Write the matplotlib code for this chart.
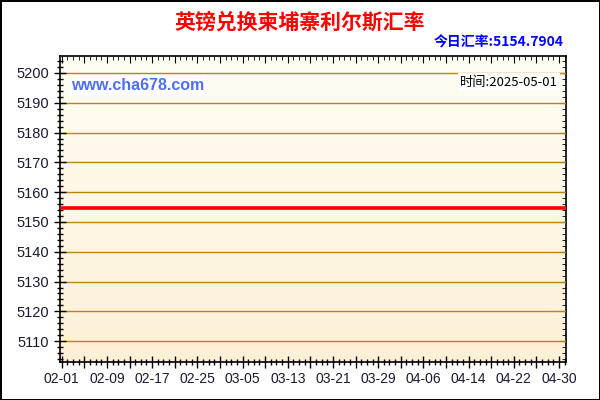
import matplotlib.pyplot as plt
import numpy as np
import pandas as pd
from matplotlib.colors import LinearSegmentedColormap
from matplotlib.ticker import MultipleLocator, FuncFormatter

# data: GBP -> KHR rate, flat over the period
dates = pd.date_range("2025-02-01", "2025-05-01")
rates = [
    5154.7904, 5154.7904, 5154.7904, 5154.7904, 5154.7904, 5154.7904, 5154.7904, 5154.7904, 5154.7904, 5154.7904,
    5154.7904, 5154.7904, 5154.7904, 5154.7904, 5154.7904, 5154.7904, 5154.7904, 5154.7904, 5154.7904, 5154.7904,
    5154.7904, 5154.7904, 5154.7904, 5154.7904, 5154.7904, 5154.7904, 5154.7904, 5154.7904, 5154.7904, 5154.7904,
    5154.7904, 5154.7904, 5154.7904, 5154.7904, 5154.7904, 5154.7904, 5154.7904, 5154.7904, 5154.7904, 5154.7904,
    5154.7904, 5154.7904, 5154.7904, 5154.7904, 5154.7904, 5154.7904, 5154.7904, 5154.7904, 5154.7904, 5154.7904,
    5154.7904, 5154.7904, 5154.7904, 5154.7904, 5154.7904, 5154.7904, 5154.7904, 5154.7904, 5154.7904, 5154.7904,
    5154.7904, 5154.7904, 5154.7904, 5154.7904, 5154.7904, 5154.7904, 5154.7904, 5154.7904, 5154.7904, 5154.7904,
    5154.7904, 5154.7904, 5154.7904, 5154.7904, 5154.7904, 5154.7904, 5154.7904, 5154.7904, 5154.7904, 5154.7904,
    5154.7904, 5154.7904, 5154.7904, 5154.7904, 5154.7904, 5154.7904, 5154.7904, 5154.7904, 5154.7904, 5154.7904,
]
today_rate = "5154.7904"
today = "2025-05-01"
title = "英镑兑换柬埔寨利尔斯汇率"

labels = [d.strftime("%m-%d") for d in dates]
x = np.arange(len(dates))

plt.rcParams['font.family'] = ['Liberation Sans', 'Noto Sans CJK SC', 'DejaVu Sans']

fig = plt.figure(figsize=(6, 4), dpi=100)
fig.patch.set_edgecolor('black')
fig.patch.set_linewidth(2)
ax = fig.add_axes([0.1, 0.095, 0.843, 0.765])

# gradient background
cmap = LinearSegmentedColormap.from_list("bg", ["#FFFEF4", "#FDF0D6"])
grad = np.linspace(0, 1, 256).reshape(-1, 1)
ax.imshow(grad, aspect='auto', cmap=cmap, extent=[0, 1, 0, 1],
          transform=ax.transAxes, zorder=0)

ax.plot(x, rates, color='#FF0000', lw=2.6, zorder=3)

ax.set_xlim(-0.3, 89.2)
ax.set_ylim(5103, 5205.7)

ax.yaxis.set_major_locator(MultipleLocator(10))
ax.yaxis.set_minor_locator(MultipleLocator(2))
ax.xaxis.set_major_locator(MultipleLocator(4))
ax.xaxis.set_minor_locator(MultipleLocator(1))
ax.xaxis.set_major_formatter(FuncFormatter(
    lambda v, p: labels[int(v)] if int(v) % 8 == 0 and 0 <= int(v) < len(labels) else ""))
ax.yaxis.set_major_formatter(FuncFormatter(lambda v, p: "%d" % v if v >= 5110 else ""))

ax.grid(axis='y', which='major', color='#B8860B', lw=1, zorder=1)
ax.tick_params(which='major', direction='inout', length=9, width=1, labelsize=10.5,
               labelcolor='#1a1a2e')
ax.tick_params(axis='x', labelsize=10, pad=3)
ax.tick_params(which='minor', direction='inout', length=5, width=1)

for s in ['top', 'right']:
    ax.spines[s].set_visible(False)
for s in ['left', 'bottom']:
    ax.spines[s].set_linewidth(1.2)

# inward ticks on top and right
top = ax.secondary_xaxis('top')
top.xaxis.set_major_locator(MultipleLocator(4))
top.xaxis.set_minor_locator(MultipleLocator(1))
top.tick_params(which='major', direction='in', length=5, labeltop=False)
top.tick_params(which='minor', direction='in', length=3)
top.spines['top'].set_linewidth(1.2)
right = ax.secondary_yaxis('right')
right.yaxis.set_major_locator(MultipleLocator(10))
right.yaxis.set_minor_locator(MultipleLocator(2))
right.tick_params(which='major', direction='in', length=5, labelright=False)
right.tick_params(which='minor', direction='in', length=3)
right.spines['right'].set_linewidth(1.2)

fig.text(0.5, 0.945, title, ha='center', va='center', color='#FF0000',
         fontsize=15, fontweight='bold', family=['Noto Sans CJK SC', 'DejaVu Sans'])
fig.text(0.94, 0.895, "今日汇率:" + today_rate, ha='right', va='center', color='#0000FF',
         fontsize=10, fontweight='bold', family=['Noto Sans CJK SC', 'DejaVu Sans'])

ax.text(0.022, 0.903, "www.cha678.com", transform=ax.transAxes, ha='left', va='center',
        color='#4F6EF7', fontsize=11.5, fontweight='bold', zorder=4,
        bbox=dict(facecolor='white', edgecolor='none', pad=1.5))
ax.text(0.985, 0.915, "时间:" + today, transform=ax.transAxes, ha='right', va='center',
        color='black', fontsize=9.5, zorder=4, family=['Noto Sans CJK SC', 'DejaVu Sans'],
        bbox=dict(facecolor='white', edgecolor='none', pad=1.5))

fig.savefig("out.png", dpi=100, edgecolor=fig.get_edgecolor())
